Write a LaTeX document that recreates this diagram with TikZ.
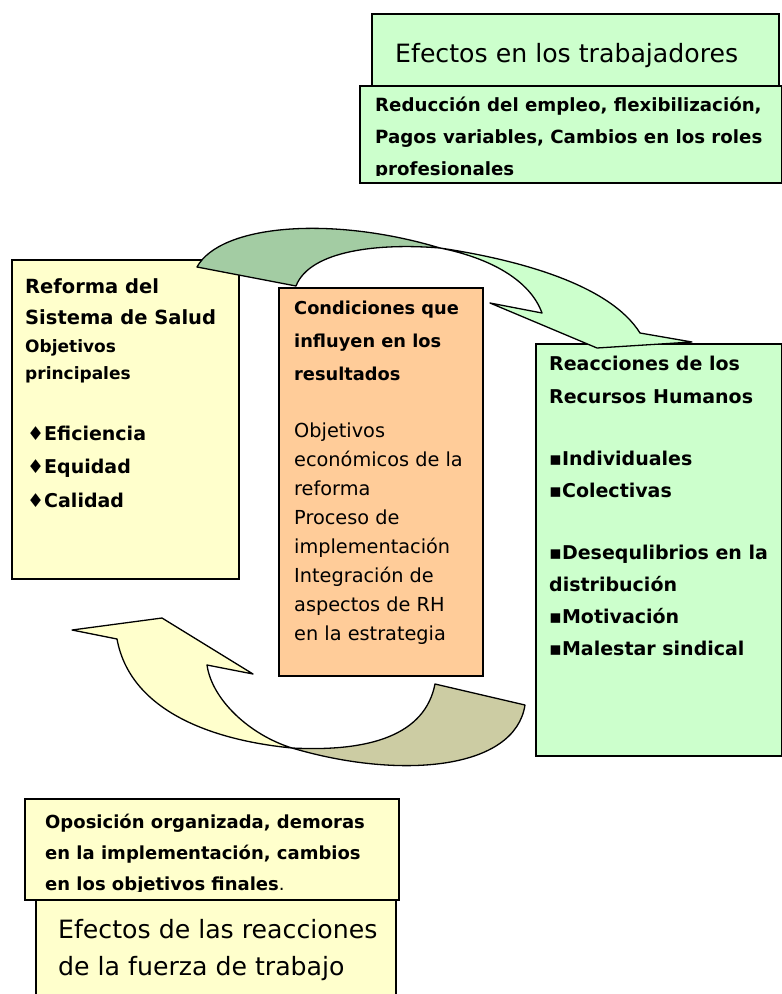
\documentclass[tikz,border=0pt]{standalone}
\usepackage{fontspec}
\setmainfont{DejaVu Sans}
\usetikzlibrary{positioning}
\definecolor{amarilloC}{HTML}{FFFFCC}
\definecolor{verdeC}{HTML}{CCFFCC}
\definecolor{verdeO}{HTML}{A3CCA3}
\definecolor{naranjaC}{HTML}{FFCC99}
\definecolor{oliva}{HTML}{CCCCA3}
\tikzset{
  caja/.style={draw=black, line width=2bp, inner sep=0pt, anchor=north west},
  flecha/.style={draw=black, line width=1.3bp, line join=round},
  negrita/.style={anchor=base west, inner sep=0pt, align=left, font=\bfseries\fontsize{18.2bp}{32bp}\selectfont},
  fina/.style={anchor=base west, inner sep=0pt, align=left, font=\fontsize{19.3bp}{29bp}\selectfont},
  grande/.style={anchor=base west, inner sep=0pt, align=left, font=\fontsize{25.2bp}{37bp}\selectfont},
}
\begin{document}
\begin{tikzpicture}[x=1bp,y=-1bp]
\useasboundingbox (0,0) rectangle (782,994);
% cajas de arriba (texto anclado en la ultima linea)
\node[caja, fill=verdeC, minimum width=407bp, minimum height=80bp] (efTrab) at (371,13) {};
\node[grande] (efTrabTxt) at (395,62) {Efectos en los trabajadores};
\node[caja, fill=verdeC, minimum width=422bp, minimum height=97bp] (redEmp) at (359,85) {};
\begin{scope}
\clip (359,85) rectangle (781,175);
\node[negrita] (redEmpTxt) at (375,175) {Reducción del empleo, flexibilización,\\Pagos variables, Cambios en los roles\\profesionales};
\end{scope}
% cajas centrales
\node[caja, fill=amarilloC, minimum width=227bp, minimum height=319bp] (reforma) at (11,259) {};
\node[negrita, font=\bfseries\fontsize{19.5bp}{31bp}\selectfont] (reformaTit) at (25,324) {Reforma del\\Sistema de Salud};
\node[negrita, font=\bfseries\fontsize{17bp}{27bp}\selectfont] (reformaSub) at (25,379) {Objetivos\\principales};
\node[negrita, font=\bfseries\fontsize{19bp}{33.5bp}\selectfont] (reformaObj) at (27,507) {♦Eficiencia\\♦Equidad\\♦Calidad};
\node[caja, fill=naranjaC, minimum width=204bp, minimum height=388bp] (condic) at (278,287) {};
\node[negrita, font=\bfseries\fontsize{17.8bp}{33bp}\selectfont] (condicTit) at (294,380) {Condiciones que\\influyen en los\\resultados};
\node[fina] (condicTxt) at (294,640) {Objetivos\\económicos de la\\reforma\\Proceso de\\implementación\\Integración de\\aspectos de RH\\en la estrategia};
\node[caja, fill=verdeC, minimum width=246bp, minimum height=412bp] (reacc) at (535,343) {};
\node[negrita, font=\bfseries\fontsize{19bp}{33bp}\selectfont] (reaccTit) at (549,403) {Reacciones de los\\Recursos Humanos};
\node[negrita, font=\bfseries\fontsize{19bp}{32bp}\selectfont] (reaccA) at (549,497) {▪Individuales\\▪Colectivas};
\node[negrita, font=\bfseries\fontsize{19bp}{31.7bp}\selectfont] (reaccB) at (549,655) {▪Desequlibrios en la\\distribución\\▪Motivación\\▪Malestar sindical};
% cajas de abajo
\node[caja, fill=amarilloC, minimum width=360bp, minimum height=97bp] (efReac) at (35,899) {};
\node[grande] (efReacTxt) at (58,975) {Efectos de las reacciones\\de la fuerza de trabajo};
\node[caja, fill=amarilloC, minimum width=374bp, minimum height=101bp] (oposic) at (24,798) {};
\begin{scope}
\clip (24,798) rectangle (398,891);
\node[negrita, font=\bfseries\fontsize{18bp}{31bp}\selectfont] (oposicTxt) at (45,890) {Oposición organizada, demoras\\en la implementación, cambios\\en los objetivos finales{\mdseries.}};
\end{scope}
% flecha de arriba
\coordinate (cruceA) at (440,248);
\coordinate (puntaA) at (597,348);
\draw[flecha, fill=verdeO] (197,267) .. controls (220,225) and (330,215) .. (cruceA)
  .. controls (380,243) and (310,250) .. (296,286) -- cycle;
\draw[flecha, fill=verdeC] (cruceA) .. controls (520,260) and (610,285) .. (640,333)
  -- (692,342) -- (puntaA) -- (490,303) -- (542,313)
  .. controls (530,280) and (490,258) .. (cruceA) -- cycle;
% flecha de abajo
\coordinate (cruceB) at (292,748);
\coordinate (puntaB) at (162,618);
\draw[flecha, fill=oliva] (cruceB) .. controls (370,752) and (425,735) .. (435,684)
  -- (525,705) .. controls (515,770) and (400,780) .. (cruceB) -- cycle;
\draw[flecha, fill=amarilloC] (cruceB) .. controls (210,740) and (130,710) .. (117,639)
  -- (72,630) -- (puntaB) -- (253,674) -- (207,665)
  .. controls (212,700) and (250,735) .. (cruceB) -- cycle;
\end{tikzpicture}
\end{document}
